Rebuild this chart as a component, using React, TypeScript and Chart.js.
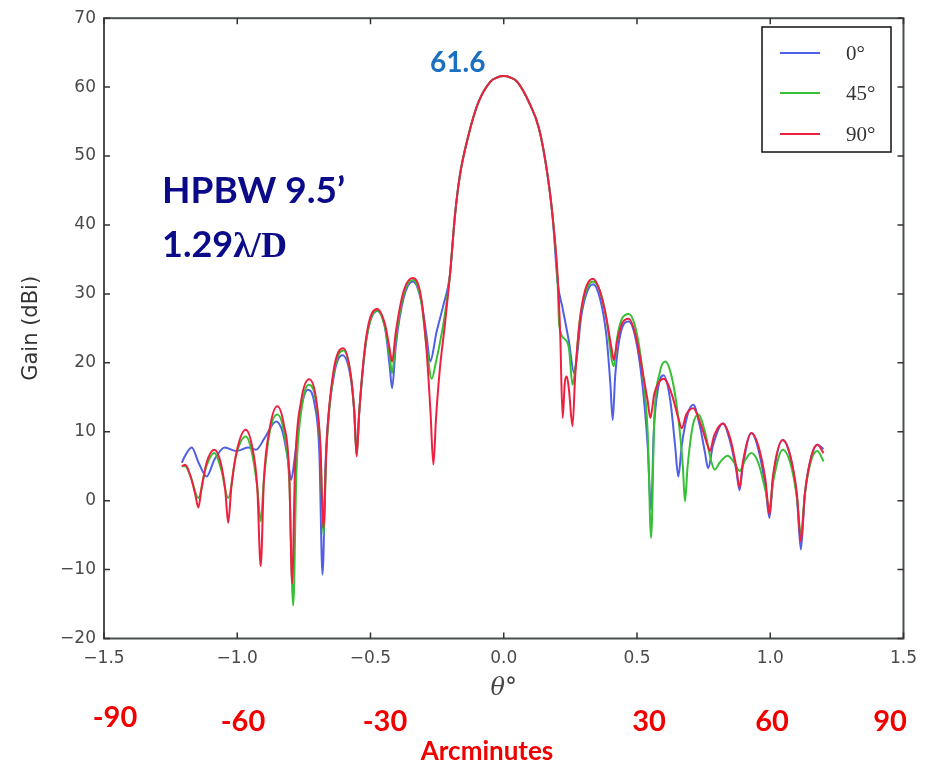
import React, { useEffect, useRef } from 'react';
import { Chart, registerables } from 'chart.js';

Chart.register(...registerables);

// ---------- data (theta in degrees, gain in dBi) ----------
const mainLobe: [number, number][] = [
  [-0.183, 41.4], [-0.165, 47.1], [-0.133, 52.9], [-0.096, 57.7], [-0.05, 60.8], [-0.025, 61.4],
  [0, 61.6], [0.025, 61.4], [0.05, 60.8], [0.096, 57.7], [0.133, 53.9], [0.165, 47.1], [0.183, 41.4],
];

const left0: [number, number][] = [
  [-1.208, 5.5], [-1.2, 6.2], [-1.171, 7.7], [-1.145, 5.5], [-1.115, 3.5], [-1.085, 6.0],
  [-1.047, 7.7], [-1.003, 7.2], [-0.96, 7.7], [-0.929, 7.4], [-0.897, 9.1], [-0.854, 11.5],
  [-0.83, 10.0], [-0.81, 6.0], [-0.798, 3.0], [-0.785, 6.0], [-0.762, 13.0], [-0.735, 16.1],
  [-0.71, 14.0], [-0.692, 7.0], [-0.68, -10.7], [-0.668, 6.0], [-0.64, 17.5], [-0.605, 21.1],
  [-0.575, 18.0], [-0.561, 13.0], [-0.552, 7.0], [-0.542, 13.0], [-0.515, 23.5], [-0.475, 27.5],
  [-0.445, 25.0], [-0.428, 19.5], [-0.419, 16.3], [-0.405, 22.5], [-0.375, 29.5], [-0.341, 31.8],
  [-0.31, 29.0], [-0.29, 24.0], [-0.276, 20.2], [-0.252, 24.5], [-0.227, 28.3], [-0.202, 32.7],
];
const right0: [number, number][] = [
  [0.202, 31.7], [0.221, 27.9], [0.245, 23.0], [0.264, 18.5], [0.275, 21.0], [0.29, 26.5],
  [0.31, 30.0], [0.335, 31.4], [0.36, 29.5], [0.385, 24.0], [0.4, 17.0], [0.409, 11.7],
  [0.418, 18.0], [0.44, 24.5], [0.469, 26.0], [0.495, 23.5], [0.52, 17.0], [0.54, 8.0],
  [0.553, -1.3], [0.563, 10.0], [0.58, 16.5], [0.6, 18.2], [0.625, 14.5], [0.643, 8.0],
  [0.655, 3.5], [0.668, 8.0], [0.69, 12.5], [0.711, 13.9], [0.735, 11.0], [0.755, 7.0],
  [0.767, 4.7], [0.785, 8.0], [0.823, 11.2], [0.85, 8.5], [0.872, 4.5], [0.885, 1.5],
  [0.897, 5.0], [0.929, 9.8], [0.955, 7.5], [0.982, 2.0], [0.997, -2.5], [1.01, 3.0],
  [1.047, 8.8], [1.075, 6.5], [1.1, 0.5], [1.115, -7.1], [1.13, 1.0], [1.155, 6.5],
  [1.177, 8.1], [1.2, 7.5],
];

const left45: [number, number][] = [
  [-1.208, 5.0], [-1.195, 5.0], [-1.175, 3.5], [-1.146, 0.4], [-1.12, 4.5], [-1.086, 6.9],
  [-1.06, 4.5], [-1.034, 0.4], [-1.005, 6.5], [-0.968, 9.3], [-0.945, 7.0], [-0.925, 2.0],
  [-0.912, -3.0], [-0.9, 3.0], [-0.878, 10.0], [-0.85, 12.5], [-0.825, 10.0], [-0.805, 3.0],
  [-0.79, -15.2], [-0.778, 4.0], [-0.758, 13.5], [-0.73, 16.8], [-0.705, 14.5], [-0.688, 7.5],
  [-0.677, -5.0], [-0.665, 7.5], [-0.64, 18.0], [-0.602, 21.8], [-0.575, 18.5], [-0.561, 13.0],
  [-0.552, 6.5], [-0.542, 13.0], [-0.515, 23.5], [-0.475, 27.6], [-0.445, 25.0], [-0.428, 21.0],
  [-0.419, 18.5], [-0.405, 23.5], [-0.375, 30.0], [-0.341, 32.0], [-0.31, 29.0], [-0.29, 22.5],
  [-0.27, 17.7], [-0.255, 20.0], [-0.239, 23.0], [-0.221, 27.0], [-0.202, 32.7],
];
const right45: [number, number][] = [
  [0.202, 32.0], [0.208, 25.5], [0.227, 23.5], [0.245, 22.0], [0.258, 16.8], [0.268, 19.0],
  [0.285, 26.0], [0.305, 30.0], [0.335, 31.8], [0.36, 30.5], [0.385, 26.5], [0.405, 20.5],
  [0.413, 19.5], [0.425, 23.5], [0.445, 26.5], [0.469, 27.1], [0.495, 25.0], [0.52, 19.0],
  [0.54, 10.0], [0.553, -5.4], [0.565, 12.0], [0.585, 18.5], [0.606, 20.2], [0.63, 18.0],
  [0.655, 12.0], [0.672, 5.0], [0.68, -0.1], [0.69, 5.0], [0.71, 11.0], [0.73, 12.5],
  [0.755, 10.0], [0.78, 5.5], [0.792, 4.5], [0.81, 5.5], [0.84, 6.5], [0.865, 5.5],
  [0.885, 4.3], [0.905, 5.8], [0.929, 6.9], [0.955, 5.5], [0.982, 1.5], [0.997, -1.0],
  [1.012, 3.0], [1.047, 7.4], [1.075, 5.5], [1.1, 0.5], [1.115, -4.9], [1.13, 1.0],
  [1.155, 6.0], [1.177, 7.2], [1.2, 5.7],
];

const left90: [number, number][] = [
  [-1.208, 5.0], [-1.195, 5.2], [-1.175, 3.5], [-1.158, 1.0], [-1.146, -1.0], [-1.135, 1.5],
  [-1.115, 5.5], [-1.086, 7.4], [-1.062, 5.5], [-1.045, 1.5], [-1.034, -3.2], [-1.022, 2.0],
  [-1.0, 7.5], [-0.968, 10.3], [-0.945, 8.0], [-0.925, 2.0], [-0.912, -9.5], [-0.9, 3.0],
  [-0.878, 10.5], [-0.85, 13.7], [-0.825, 11.0], [-0.805, 4.0], [-0.794, -12.0], [-0.783, 5.0],
  [-0.76, 14.5], [-0.73, 17.6], [-0.705, 15.0], [-0.688, 8.0], [-0.677, -4.0], [-0.665, 8.0],
  [-0.64, 18.5], [-0.602, 22.1], [-0.575, 18.5], [-0.561, 13.0], [-0.552, 6.4], [-0.542, 13.0],
  [-0.515, 24.0], [-0.475, 27.8], [-0.445, 25.5], [-0.428, 22.0], [-0.419, 20.2], [-0.405, 24.5],
  [-0.375, 30.5], [-0.341, 32.3], [-0.31, 29.5], [-0.29, 22.0], [-0.275, 13.0], [-0.264, 5.2],
  [-0.254, 12.0], [-0.24, 19.0], [-0.221, 25.5], [-0.202, 32.7],
];
const right90: [number, number][] = [
  [0.202, 32.7], [0.212, 24.0], [0.221, 12.0], [0.229, 17.0], [0.237, 18.0], [0.245, 16.0],
  [0.258, 10.8], [0.268, 18.0], [0.285, 26.0], [0.305, 30.5], [0.335, 32.2], [0.36, 30.5],
  [0.385, 26.5], [0.405, 22.0], [0.413, 20.4], [0.425, 23.0], [0.445, 25.8], [0.469, 26.4],
  [0.495, 24.0], [0.52, 19.0], [0.54, 14.5], [0.55, 12.0], [0.565, 15.5], [0.6, 17.7],
  [0.63, 15.5], [0.655, 12.0], [0.668, 10.5], [0.685, 12.5], [0.711, 13.4], [0.74, 11.0],
  [0.765, 8.0], [0.773, 7.2], [0.79, 9.5], [0.823, 11.2], [0.85, 9.0], [0.872, 5.0],
  [0.885, 1.9], [0.897, 5.5], [0.929, 9.8], [0.955, 8.0], [0.982, 3.0], [0.997, -2.0],
  [1.01, 3.5], [1.047, 8.8], [1.075, 6.5], [1.1, 1.0], [1.115, -5.9], [1.13, 1.0],
  [1.155, 6.5], [1.177, 8.1], [1.2, 6.9],
];

const seriesLabels = ['0°', '45°', '90°'];
const seriesColors = ['#4f5fe6', '#35c035', '#ee2040'];
const xTickValues = [-1.5, -1.0, -0.5, 0, 0.5, 1.0, 1.5];
const yTickValues = [-20, -10, 0, 10, 20, 30, 40, 50, 60, 70];
const arcminLabels = ['-90', '-60', '-30', '30', '60', '90'];
const peakLabel = '61.6';

// ---------- layout constants ----------
const W = 927;
const H = 769;
const AREA = { left: 104, right: 909.5, top: 15, bottom: 638.5 };
const arcminX = [115, 243, 385, 649, 772, 890];
const arcminY = [718, 722, 722, 722, 722, 722];

const toXY = (pts: [number, number][]) => pts.map(([x, y]) => ({ x, y }));

const minus = (s: string) => s.replace('-', '\u2212');

const overlayPlugin = {
  id: 'overlay',
  afterDraw(chart: any) {
    const { ctx, chartArea: a, scales } = chart;
    const xs = scales.x;
    const ys = scales.y;
    ctx.save();
    // frame
    ctx.strokeStyle = '#4a4f4f';
    ctx.lineWidth = 2;
    ctx.strokeRect(a.left, a.top, a.right - a.left, a.bottom - a.top);
    // inward ticks
    ctx.lineWidth = 1.5;
    ctx.strokeStyle = '#333';
    const tl = 6;
    xTickValues.forEach((v) => {
      const px = xs.getPixelForValue(v);
      ctx.beginPath();
      ctx.moveTo(px, a.bottom);
      ctx.lineTo(px, a.bottom - tl);
      ctx.moveTo(px, a.top);
      ctx.lineTo(px, a.top + tl);
      ctx.stroke();
    });
    yTickValues.forEach((v) => {
      const py = ys.getPixelForValue(v);
      ctx.beginPath();
      ctx.moveTo(a.left, py);
      ctx.lineTo(a.left + tl, py);
      ctx.moveTo(a.right, py);
      ctx.lineTo(a.right - tl, py);
      ctx.stroke();
    });

    // legend
    const lx = 762, ly = 27, lw = 129, lh = 125;
    ctx.fillStyle = '#ffffff';
    ctx.fillRect(lx, ly, lw, lh);
    ctx.strokeStyle = '#111';
    ctx.lineWidth = 1.5;
    ctx.strokeRect(lx, ly, lw, lh);
    const rowY = [53, 93, 134];
    seriesLabels.forEach((label, i) => {
      ctx.strokeStyle = seriesColors[i];
      ctx.lineWidth = 2;
      ctx.beginPath();
      ctx.moveTo(780, rowY[i]);
      ctx.lineTo(820, rowY[i]);
      ctx.stroke();
      ctx.fillStyle = '#333';
      ctx.font = '21px "Liberation Serif", "DejaVu Serif", serif';
      ctx.textBaseline = 'middle';
      ctx.textAlign = 'left';
      ctx.fillText(label, 846, rowY[i] + 1);
    });

    // peak label
    ctx.fillStyle = '#1a6fc0';
    ctx.font = 'bold 28px Lato, "Open Sans", sans-serif';
    ctx.textBaseline = 'alphabetic';
    ctx.textAlign = 'left';
    ctx.fillText(peakLabel, 430, 72);

    // HPBW annotation
    ctx.fillStyle = '#0b0b8a';
    ctx.font = 'bold 37px Lato, "Open Sans", sans-serif';
    ctx.fillText('HPBW 9.5\u2019', 162, 203);
    ctx.font = 'bold 36px Lato, "Open Sans", sans-serif';
    ctx.fillText('1.29', 162, 257);
    const w129 = ctx.measureText('1.29').width;
    ctx.font = 'bold 36px "Liberation Serif", "DejaVu Serif", serif';
    ctx.fillText('\u03bb/D', 162 + w129, 257);

    // arcminute labels
    ctx.fillStyle = '#f20000';
    ctx.font = 'bold 29px Lato, "Open Sans", sans-serif';
    ctx.textAlign = 'center';
    ctx.textBaseline = 'middle';
    arcminLabels.forEach((t, i) => ctx.fillText(t, arcminX[i], arcminY[i]));
    ctx.font = 'bold 26px Lato, "Open Sans", sans-serif';
    ctx.fillText('Arcminutes', 487, 752);
    ctx.restore();
  },
};

export default function App() {
  const ref = useRef<HTMLCanvasElement>(null);
  useEffect(() => {
    if (!ref.current) return;
    const series = [
      [...left0, ...mainLobe, ...right0],
      [...left45, ...mainLobe, ...right45],
      [...left90, ...mainLobe, ...right90],
    ];
    const chart = new Chart(ref.current, {
      type: 'scatter',
      data: {
        datasets: series.map((pts, i) => ({
          label: seriesLabels[i],
          data: toXY(pts),
          showLine: true,
          order: series.length - i,
          borderColor: seriesColors[i],
          backgroundColor: seriesColors[i],
          borderWidth: 2,
          pointRadius: 0,
          cubicInterpolationMode: 'monotone',
        })),
      },
      options: {
        responsive: false,
        animation: false,
        events: [],
        layout: { padding: { left: 0, right: W - AREA.right, top: AREA.top, bottom: 0 } },
        plugins: { legend: { display: false }, tooltip: { enabled: false } },
        scales: {
          x: {
            type: 'linear',
            min: -1.5,
            max: 1.5,
            afterFit: (s: any) => { s.height = H - AREA.bottom; },
            afterBuildTicks: (s: any) => { s.ticks = xTickValues.map((v) => ({ value: v })); },
            grid: { display: false, drawTicks: false },
            border: { display: false },
            ticks: {
              padding: 10,
              color: '#4a4a4a',
              font: { family: '"DejaVu Sans", sans-serif', size: 17 },
              maxRotation: 0,
              autoSkip: false,
              callback: (v: any) => minus(Number(v).toFixed(1)),
            },
            title: {
              display: true,
              text: '\u03b8\u00b0',
              color: '#444',
              font: { family: '"DejaVu Serif", serif', size: 24, style: 'italic' },
              padding: { top: 0, bottom: 66 },
            },
          },
          y: {
            type: 'linear',
            min: -20,
            max: 70,
            afterFit: (s: any) => { s.width = AREA.left; },
            afterBuildTicks: (s: any) => { s.ticks = yTickValues.map((v) => ({ value: v })); },
            grid: { display: false, drawTicks: false },
            border: { display: false },
            ticks: {
              padding: 8,
              color: '#4a4a4a',
              font: { family: '"DejaVu Sans", sans-serif', size: 17 },
              autoSkip: false,
              callback: (v: any) => minus(String(v)),
            },
            title: {
              display: true,
              text: 'Gain (dBi)',
              color: '#333',
              font: { family: '"DejaVu Sans", sans-serif', size: 21 },
              padding: { top: 19, bottom: 0 },
            },
          },
        },
      },
      plugins: [overlayPlugin],
    } as any);
    return () => chart.destroy();
  }, []);

  return (
    <div style={{ position: 'absolute', left: 0, top: 0, width: W, height: H, background: '#fff' }}>
      <canvas ref={ref} width={W} height={H} />
    </div>
  );
}
